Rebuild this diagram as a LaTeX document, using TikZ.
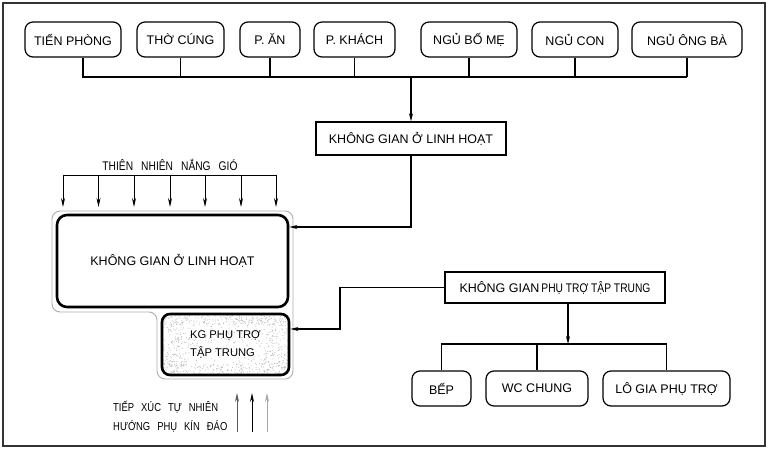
\documentclass[tikz,border=0pt]{standalone}
\usepackage{fontspec}
\setmainfont{Liberation Sans}
\newfontfamily\narrowf[FakeStretch=0.82]{Liberation Sans}
\usetikzlibrary{arrows.meta}
\begin{document}
\begin{tikzpicture}[x=1pt,y=-1pt,
  room/.style={draw, rounded corners=8pt, line width=1.2pt, minimum height=35pt, inner sep=0pt, font=\fontsize{12.5}{14}\selectfont},
  hub/.style={draw, line width=1.4pt, minimum height=33pt, inner sep=0pt, font=\fontsize{12.5}{14}\selectfont},
  conn/.style={line width=1.1pt},
  arr/.style={conn, -{Stealth[length=8pt,width=4pt]}},
  thinarr/.style={line width=0.8pt, -{Stealth[length=9pt,width=4pt]}},
  narrowtxt/.style={font=\narrowf\fontsize{12.5}{14}\selectfont, inner sep=0pt},
]
\useasboundingbox (0,0) rectangle (768,449);
\draw[line width=1.5pt, gray!40!black] (3,3) rectangle (765,446);

% top rooms
\node[room, minimum width=96pt]  (tp)  at (73,39.5)    {TIẾN PHÒNG};
\node[room, minimum width=87pt]  (tc)  at (180.5,39.5) {THỜ CÚNG};
\node[room, minimum width=60pt]  (pa)  at (270,39.5)   {P. ĂN};
\node[room, minimum width=81pt]  (pk)  at (354.5,39.5) {P. KHÁCH};
\node[room, minimum width=96pt]  (nbm) at (469,39.5)   {NGỦ BỐ MẸ};
\node[room, minimum width=86pt]  (nc)  at (575,39.5)   {NGỦ CON};
\node[room, minimum width=110pt] (nob) at (687,39.5)   {NGỦ ÔNG BÀ};

\coordinate (busL) at (83,77);
\coordinate (busR) at (687,77);
\draw[conn] ([xshift=10pt]tp.south) -- (busL) -- (busR);
\foreach \n in {tc,pa,pk,nbm,nc,nob}{
  \draw[conn] (\n.south) -- (\n.south |- busL);
}

% hub 1
\node[hub, minimum width=190pt] (kg1) at (411,138.5) {KHÔNG GIAN Ở LINH HOẠT};
\draw[arr] (kg1.north |- busL) -- (kg1.north);

% nature arrows
\node[narrowtxt] (tn) at (170,165) {THIÊN\hspace{8pt}NHIÊN\hspace{8pt}NẮNG\hspace{8pt}GIÓ};
\coordinate (nL) at (63,175);
\coordinate (nR) at (276,175);
\draw[line width=0.8pt] (nL) -- (nR);
\foreach \x in {63,98.5,134,170,205,241,276}{
  \draw[thinarr] (\x,175) -- (\x,207);
}

% gray outline
\draw[gray!65, line width=0.9pt, rounded corners=8pt]
  (52,211) -- (293,211) -- (293,379) -- (157,379) -- (157,312) -- (52,312) -- cycle;

% big box
\node[draw, line width=2.6pt, rounded corners=10pt, minimum width=231pt, minimum height=92pt,
      font=\fontsize{12.5}{14}\selectfont] (big) at (172.5,261) {KHÔNG GIAN Ở LINH HOẠT};

% speckles
\begin{scope}
  \clip[rounded corners=7pt] (163,315) rectangle (288,374);
  \pgfmathsetseed{42}
  \foreach \i in {1,...,380}{
    \pgfmathsetmacro\px{163+125*rnd}
    \pgfmathsetmacro\py{315+59*rnd}
    \fill[gray!55] (\px,\py) circle[radius=0.5pt];
  }
  \foreach \i in {1,...,160}{
    \pgfmathsetmacro\px{163+125*rnd}
    \pgfmathsetmacro\py{315+10*rnd}
    \fill[gray!60] (\px,\py) circle[radius=0.5pt];
    \pgfmathsetmacro\qx{163+125*rnd}
    \pgfmathsetmacro\qy{363+11*rnd}
    \fill[gray!60] (\qx,\qy) circle[radius=0.5pt];
  }
  \foreach \i in {1,...,90}{
    \pgfmathsetmacro\px{163+24*rnd}
    \pgfmathsetmacro\py{315+59*rnd}
    \fill[gray!60] (\px,\py) circle[radius=0.5pt];
    \pgfmathsetmacro\qx{264+24*rnd}
    \pgfmathsetmacro\qy{315+59*rnd}
    \fill[gray!60] (\qx,\qy) circle[radius=0.5pt];
  }
\end{scope}
\node[draw, line width=2.6pt, rounded corners=8pt, minimum width=127pt, minimum height=61pt,
      align=left, font=\fontsize{11.2}{18}\selectfont] (kg2) at (225.5,344.5) {KG PHỤ TRỢ\\TẬP TRUNG};

\coordinate (y227) at (0,227);
\draw[arr] (kg1.south) |- (big.east |- y227);

% hub 2
\node[hub, minimum width=220pt, minimum height=31pt] (ptt) at (555,287.5)
  {KHÔNG GIAN\hspace{2pt}{\narrowf PHỤ TRỢ TẬP TRUNG}};
\coordinate (bend) at (340,329);
\draw[arr] (ptt.west) -| (bend) -- (bend -| kg2.east);

% service rooms
\node[room, minimum width=59pt]  (bep) at (441.5,388.5) {\raisebox{-4pt}{BẾP}};
\node[room, minimum width=102pt] (wc)  at (537,388.5)   {WC CHUNG};
\node[room, minimum width=127pt] (lg)  at (666.5,388.5) {LÔ GIA PHỤ TRỢ};
\coordinate (bus2) at (568,344);
\draw[arr] (ptt.south -| bus2) -- (bus2);
\draw[conn] (bep.north) -- (bep.north |- bus2) -- (lg.north |- bus2) -- (lg.north);
\draw[conn] (wc.north) -- (wc.north |- bus2);

% bottom text and arrows
\node[align=left, anchor=west, font=\narrowf\fontsize{11.5}{19.5}\selectfont, inner sep=0pt] (tx) at (113,416.5)
  {TIẾP\hspace{7pt}XÚC\hspace{7pt}TỰ\hspace{7pt}NHIÊN\\HƯỚNG\hspace{7pt}PHỤ\hspace{7pt}KÍN\hspace{7pt}ĐÁO};
\draw[thinarr, gray!70!black] (237,432) -- (237,393);
\draw[thinarr, black] (252,432) -- (252,393);
\draw[thinarr, gray!70] (267,432) -- (267,393);
\end{tikzpicture}
\end{document}
